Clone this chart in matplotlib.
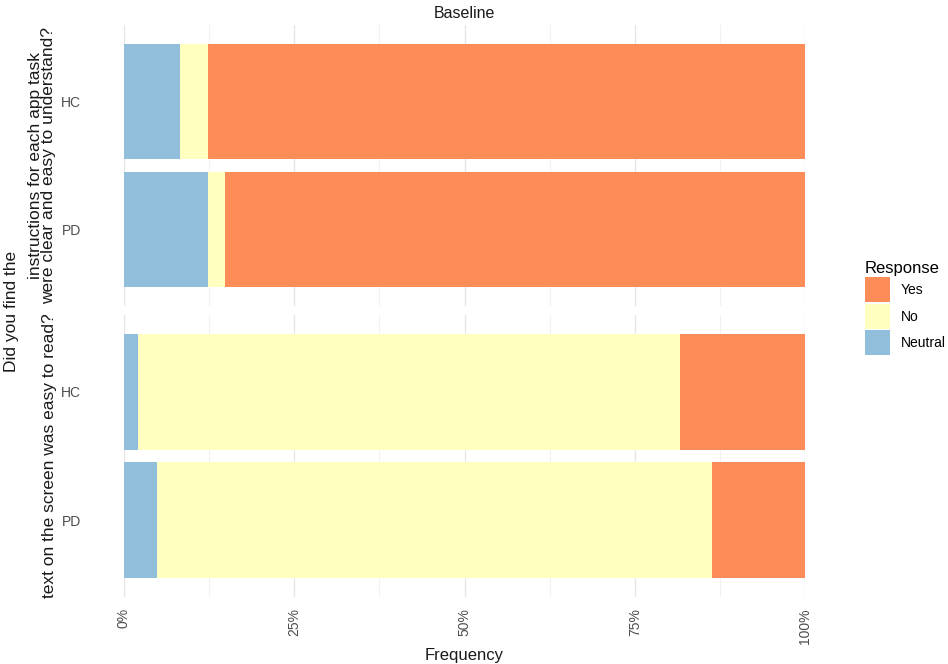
import numpy as np
import matplotlib
matplotlib.use("Agg")
import matplotlib.pyplot as plt
from matplotlib.patches import Patch

plt.rcParams['font.family'] = ['Liberation Sans', 'DejaVu Sans']

# data (percent of respondents)
groups = ["HC", "PD"]
responses = ["Neutral", "No", "Yes"]
colors = {"Yes": "#fc8d59", "No": "#ffffbf", "Neutral": "#91bfdb"}

# panel 1: instructions clear and easy to understand
instr_neutral = [8.2, 12.3]
instr_no = [4.1, 2.5]
instr_yes = [87.7, 85.2]

# panel 2: text on the screen easy to read
text_neutral = [2.0, 4.9]
text_no = [79.6, 81.5]
text_yes = [18.4, 13.6]

panels = [
    (instr_neutral, instr_no, instr_yes),
    (text_neutral, text_no, text_yes),
]
strip_labels = [
    "instructions for each app task\nwere clear and easy to understand?",
    "text on the screen was easy to read?",
]
x_ticks = [0, 25, 50, 75, 100]
x_ticklabels = ["0%", "25%", "50%", "75%", "100%"]

W, H = 948, 664
fig = plt.figure(figsize=(W / 100, H / 100), dpi=100)

left, right = 124 / W, 805 / W
boxes = [(25, 306), (315, 597)]
strip_x = [42, 50]  # pixel centre of the strip text
ypos = [1, 0]  # HC on top

axes = []
for (top_px, bot_px), vals, lab, sx in zip(boxes, panels, strip_labels, strip_x):
    ax = fig.add_axes([left, 1 - bot_px / H, right - left, (bot_px - top_px) / H])
    start = np.zeros(len(groups))
    for name, v in zip(responses, vals):
        ax.barh(ypos, v, left=start, height=0.9, color=colors[name], zorder=2)
        start = start + np.array(v)
    ax.set_xlim(0, 100)
    ax.set_ylim(-0.6, 1.6)
    ax.set_xticks(x_ticks)
    ax.set_xticks([12.5, 37.5, 62.5, 87.5], minor=True)
    ax.grid(True, axis="x", which="major", color="#e6e6e6", lw=1.0, zorder=0)
    ax.grid(True, axis="x", which="minor", color="#f2f2f2", lw=0.8, zorder=0)
    ax.set_yticks(ypos)
    ax.set_yticklabels(groups, fontsize=10, color="#4d4d4d")
    ax.tick_params(axis="both", which="both", length=0)
    ax.tick_params(axis="y", pad=31)
    ax.tick_params(axis="x", pad=8)
    for s in ax.spines.values():
        s.set_visible(False)
    fig.text(sx / W, 1 - (top_px + bot_px) / 2 / H, lab, rotation=90,
             ha="center", va="center", fontsize=12.5, color="#1a1a1a",
             linespacing=0.85, multialignment="center")
    axes.append(ax)

axes[0].tick_params(axis="x", labelbottom=False)
axes[1].set_xticklabels(x_ticklabels, rotation=90, fontsize=10, color="#4d4d4d")
axes[1].set_xlabel("Frequency", fontsize=12, color="#1a1a1a", labelpad=3)

fig.text(12 / W, 1 - 311 / H, "Did you find the", rotation=90,
         ha="center", va="center", fontsize=12.5, color="#1a1a1a")
fig.text((left + right) / 2, 1 - 13 / H, "Baseline", ha="center", va="center",
         fontsize=11.5, color="#1a1a1a")

handles = [Patch(facecolor=colors[n], edgecolor="none") for n in ["Yes", "No", "Neutral"]]
leg = fig.legend(handles, ["Yes", "No", "Neutral"], title="Response",
                 loc="upper left", bbox_to_anchor=(865 / W, 1 - 261 / H),
                 frameon=False, fontsize=10, title_fontsize=12,
                 handlelength=1.8, handleheight=2.4, handletextpad=0.75,
                 labelspacing=0.1, borderaxespad=0, borderpad=0)
leg._legend_box.align = "left"

fig.savefig("out.png", dpi=100)
